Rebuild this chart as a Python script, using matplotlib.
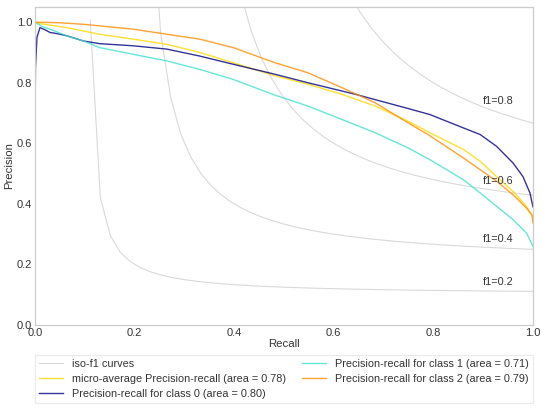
import numpy as np
import matplotlib
matplotlib.use("Agg")
import matplotlib.pyplot as plt

plt.rcParams['font.family'] = ['Liberation Sans', 'DejaVu Sans']

# ---- data ----
f_scores = [0.2, 0.4, 0.6, 0.8]

micro_recall = [0.0, 0.01, 0.064, 0.13, 0.197, 0.265, 0.331, 0.398, 0.482, 0.548,
                0.616, 0.683, 0.749, 0.793, 0.86, 0.894, 0.927, 0.96, 0.987, 1.0]
micro_prec = [1.0, 0.995, 0.982, 0.96, 0.944, 0.927, 0.90, 0.866, 0.823, 0.795,
              0.762, 0.723, 0.673, 0.635, 0.58, 0.541, 0.49, 0.441, 0.392, 0.354]

c0_recall = [0.0, 0.001, 0.004, 0.01, 0.02, 0.03, 0.045, 0.064, 0.097, 0.13, 0.197, 0.265,
             0.331, 0.398, 0.482, 0.548, 0.643, 0.749, 0.793, 0.86, 0.894, 0.927, 0.96,
             0.98, 0.994, 1.0]
c0_prec = [0.67, 0.85, 0.95, 0.982, 0.975, 0.966, 0.962, 0.955, 0.938, 0.929, 0.922, 0.911,
           0.888, 0.861, 0.828, 0.80, 0.762, 0.715, 0.695, 0.651, 0.629, 0.59, 0.535,
           0.49, 0.436, 0.39]

c1_recall = [0.0, 0.015, 0.03, 0.064, 0.097, 0.13, 0.197, 0.265, 0.331, 0.398, 0.482,
             0.548, 0.616, 0.683, 0.749, 0.793, 0.86, 0.894, 0.927, 0.96, 0.987, 1.0]
c1_prec = [1.0, 0.985, 0.977, 0.955, 0.938, 0.916, 0.894, 0.872, 0.844, 0.811, 0.759,
           0.723, 0.679, 0.635, 0.585, 0.546, 0.48, 0.436, 0.392, 0.348, 0.304, 0.26]

c2_recall = [0.0, 0.05, 0.097, 0.197, 0.265, 0.331, 0.398, 0.482, 0.548, 0.616, 0.683,
             0.749, 0.793, 0.86, 0.894, 0.927, 0.96, 0.987, 0.998, 1.0]
c2_prec = [1.0, 0.998, 0.993, 0.977, 0.96, 0.944, 0.916, 0.866, 0.833, 0.784, 0.734,
           0.668, 0.625, 0.552, 0.513, 0.475, 0.43, 0.386, 0.364, 0.337]

labels = ['iso-f1 curves',
          'micro-average Precision-recall (area = 0.78)',
          'Precision-recall for class 0 (area = 0.80)',
          'Precision-recall for class 1 (area = 0.71)',
          'Precision-recall for class 2 (area = 0.79)']

# ---- figure ----
fig = plt.figure(figsize=(5.5, 4.13), dpi=100)
ax = fig.add_axes([0.0636, 0.213, 0.969 - 0.0636, 0.983 - 0.213])

txt = '#333333'
lines = []
for f in f_scores:
    x = np.linspace(0.01, 1)
    y = f * x / (2 * x - f)
    l, = ax.plot(x[y >= 0], y[y >= 0], color='gray', alpha=0.3, lw=0.8)
    ax.annotate('f1={0:0.1f}'.format(f), xy=(0.9, y[45] + 0.02), fontsize=7.8, color=txt)
lines.append(l)

lw = 1.0
al = 0.8
l, = ax.plot(micro_recall, micro_prec, color='gold', lw=lw, alpha=al)
lines.append(l)
l, = ax.plot(c0_recall, c0_prec, color='navy', lw=lw, alpha=al)
lines.append(l)
l, = ax.plot(c1_recall, c1_prec, color='turquoise', lw=lw, alpha=al)
lines.append(l)
l, = ax.plot(c2_recall, c2_prec, color='darkorange', lw=lw, alpha=al)
lines.append(l)

ax.set_xlim(0.0, 1.0)
ax.set_ylim(0.0, 1.05)
ax.set_xticks([0.0, 0.2, 0.4, 0.6, 0.8, 1.0])
ax.set_yticks([0.0, 0.2, 0.4, 0.6, 0.8, 1.0])
ax.tick_params(length=0, labelsize=8, colors=txt, pad=2)
for s in ax.spines.values():
    s.set_color('#cccccc')
    s.set_linewidth(0.9)
ax.set_xlabel('Recall', fontsize=8.2, color=txt, labelpad=1)
ax.set_ylabel('Precision', fontsize=8.2, color=txt, labelpad=2)

leg = ax.legend(lines, labels, loc='upper left', bbox_to_anchor=(0.0, -0.094, 1.0, 0.0),
                mode='expand', ncol=2, fontsize=7.85, frameon=True, fancybox=False,
                borderaxespad=0.0, handlelength=2.2, labelspacing=0.45)
leg.get_frame().set_edgecolor('#e6e6e6')
leg.get_frame().set_linewidth(0.8)
for t in leg.get_texts():
    t.set_color(txt)

fig.savefig('out.png', dpi=100)
